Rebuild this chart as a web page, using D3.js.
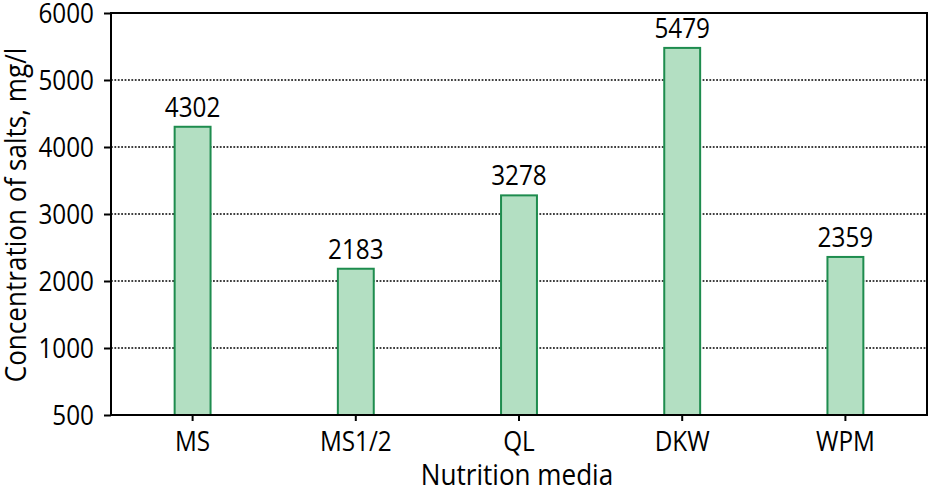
<!DOCTYPE html>
<html>
<head>
<meta charset="utf-8" />
<title>Concentration of salts</title>
<script src="https://cdn.jsdelivr.net/npm/d3@7"></script>
<style>
body{margin:0;background:#fff;}
text{font-family:"Open Sans",sans-serif;fill:#000;}
</style>
</head>
<body>
<svg id="chart" width="929" height="489"></svg>
<script>
// data
var media = ["MS", "MS1/2", "QL", "DKW", "WPM"];
var salts = [4302, 2183, 3278, 5479, 2359];
var yTicks = [0, 1000, 2000, 3000, 4000, 5000, 6000];
var yTickLabels = ["500", "1000", "2000", "3000", "4000", "5000", "6000"];

var width = 929, height = 489;
var margin = {top: 13, right: 2, bottom: 74, left: 111};
var w = width - margin.left - margin.right;
var h = height - margin.top - margin.bottom;
var sq = 0.9; // the original font is narrower, squeeze text a bit

//把文字横向压窄
function squeeze(sel){
	sel.each(function(){
		var t = d3.select(this);
		var x0 = +t.attr("x") || 0;
		t.attr("x", x0 / sq).attr("transform", "scale(" + sq + ",1)");
	});
}

var svg = d3.select("#chart");
var g = svg.append("g").attr("transform", "translate(" + margin.left + "," + margin.top + ")");

var x = d3.scaleBand().domain(media).range([0, w]).paddingInner(0.78).paddingOuter(0.39);
var y = d3.scaleLinear().domain([0, 6000]).range([h, 0]);

// dotted grid
g.append("g").selectAll("line")
	.data(yTicks.filter(function(d){ return d > 0 && d < 6000; }))
	.enter().append("line")
	.attr("x1", 0).attr("x2", w)
	.attr("y1", function(d){ return y(d); })
	.attr("y2", function(d){ return y(d); })
	.style("stroke", "#000").style("stroke-width", "1.6px").style("stroke-dasharray", "1.8,1.6");

// bars
g.append("g").selectAll("rect")
	.data(salts)
	.enter().append("rect")
	.attr("x", function(d, i){ return x(media[i]); })
	.attr("y", function(d){ return y(d); })
	.attr("width", x.bandwidth())
	.attr("height", function(d){ return h - y(d); })
	.style("fill", "#b3dfc2").style("stroke", "#1e8c4e").style("stroke-width", "2px");

// value labels
g.append("g").selectAll("text")
	.data(salts)
	.enter().append("text")
	.attr("x", function(d, i){ return x(media[i]) + x.bandwidth() / 2; })
	.attr("y", function(d){ return y(d) - 10; })
	.attr("text-anchor", "middle")
	.style("font-size", "27px")
	.text(function(d){ return d; })
	.call(squeeze);

// axes
var yAxis = d3.axisLeft(y).tickValues(yTicks).tickSize(7).tickPadding(10)
	.tickFormat(function(d, i){ return yTickLabels[i]; });
var gy = g.append("g").call(yAxis);
gy.select(".domain").remove();
gy.selectAll("line").style("stroke", "#000").style("stroke-width", "2px");
gy.selectAll("text").style("font-size", "27px").attr("dy", "0.36em").attr("font-family", null).call(squeeze);

var xAxis = d3.axisBottom(x).tickSize(6).tickPadding(11);
var gx = g.append("g").attr("transform", "translate(0," + h + ")").call(xAxis);
gx.select(".domain").remove();
gx.selectAll("line").style("stroke", "#000").style("stroke-width", "2px");
gx.selectAll("text").style("font-size", "27px").attr("font-family", null).call(squeeze);

// frame
g.append("rect").attr("x", 0).attr("y", 0).attr("width", w).attr("height", h)
	.style("fill", "none").style("stroke", "#000").style("stroke-width", "2px");

// titles
svg.append("g").attr("transform", "translate(517,485)")
	.append("text")
	.attr("text-anchor", "middle")
	.style("font-size", "29px")
	.text("Nutrition media")
	.call(squeeze);
svg.append("g").attr("transform", "translate(26,215) rotate(-90)")
	.append("text")
	.attr("text-anchor", "middle")
	.style("font-size", "29px")
	.text("Concentration of salts, mg/l")
	.call(squeeze);
</script>
</body>
</html>
